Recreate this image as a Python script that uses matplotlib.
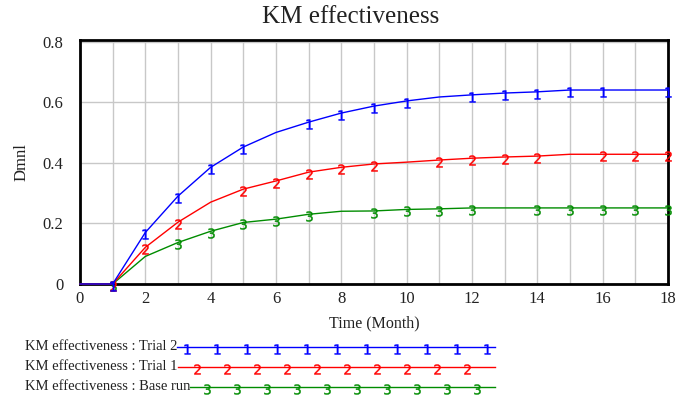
import matplotlib
matplotlib.use("Agg")
import numpy as np
import matplotlib.pyplot as plt
from matplotlib.textpath import TextPath
from matplotlib.font_manager import FontProperties
from matplotlib.path import Path

months = list(range(0, 19))
trial2 = [0, 0, 0.170, 0.290, 0.385, 0.452, 0.500, 0.534, 0.564, 0.587, 0.604,
          0.617, 0.624, 0.630, 0.634, 0.640, 0.640, 0.640, 0.640]
trial1 = [0, 0, 0.121, 0.204, 0.270, 0.313, 0.340, 0.369, 0.385, 0.396, 0.402,
          0.409, 0.415, 0.419, 0.422, 0.428, 0.428, 0.428, 0.428]
base = [0, 0, 0.091, 0.137, 0.174, 0.203, 0.214, 0.230, 0.240, 0.241, 0.246,
        0.248, 0.251, 0.251, 0.251, 0.251, 0.251, 0.251, 0.251]
series_names = ["KM effectiveness : Trial 2", "KM effectiveness : Trial 1",
                "KM effectiveness : Base run"]
marks_t2 = [1, 2, 3, 4, 5, 7, 8, 9, 10, 12, 13, 14, 15, 16, 18]
marks_t1 = [1, 2, 3, 5, 6, 7, 8, 9, 11, 12, 13, 14, 16, 17, 18]
marks_b = [1, 3, 4, 5, 6, 7, 9, 10, 11, 12, 14, 15, 16, 17, 18]
xticks = [0, 2, 4, 6, 8, 10, 12, 14, 16, 18]
yticks = [0, 0.2, 0.4, 0.6, 0.8]
ytick_labels = ["0", "0.2", "0.4", "0.6", "0.8"]

plt.rcParams['font.family'] = ['Liberation Serif', 'DejaVu Serif']


def num_marker(ch, h=10, above=3):
    fp = FontProperties(family='DejaVu Sans')
    tp = TextPath((0, 0), ch, size=10, prop=fp)
    ext = tp.get_extents()
    scale = h / ext.height
    verts = (tp.vertices - np.array([ext.x0 + ext.width / 2, ext.y1])) * scale
    verts = verts + np.array([0, above])
    path = Path(verts, tp.codes)
    ms = 2 * np.abs(verts).max() * 0.72
    return path, ms


W, H = 692, 398
fig = plt.figure(figsize=(W / 100, H / 100), dpi=100)
ax = fig.add_axes([80 / W, 1 - 284 / H, (668 - 80) / W, (284 - 40) / H])

colors = {"t2": "#0000ff", "t1": "#ff0000", "b": "#008c00"}
m1, s1 = num_marker("1")
m2, s2 = num_marker("2")
m3, s3 = num_marker("3")

ax.plot(months, base, color=colors["b"], lw=1, marker=m3, markersize=s3, mew=0.3,
        markevery=marks_b, zorder=3, clip_on=False)
ax.plot(months, trial1, color=colors["t1"], lw=1, marker=m2, markersize=s2, mew=0.3,
        markevery=marks_t1, zorder=4, clip_on=False)
ax.plot(months, trial2, color=colors["t2"], lw=1, marker=m1, markersize=s1, mew=0.3,
        markevery=marks_t2, zorder=5, clip_on=False)

ax.set_xlim(0, 18)
ax.set_ylim(0, 0.805)
ax.set_xticks(range(0, 19), minor=True)
ax.set_xticks(xticks)
ax.set_yticks(yticks)
ax.set_yticklabels(ytick_labels)
ax.grid(True, which="both", axis="x", color="#c8c8c8", lw=1)
ax.grid(True, which="major", axis="y", color="#c8c8c8", lw=1)
ax.set_axisbelow(True)
ax.tick_params(which="both", length=0, labelsize=12, labelcolor="#222222")
ax.tick_params(axis="x", pad=5)
ax.tick_params(axis="y", pad=12)
for s in ax.spines.values():
    s.set_color("black")
    s.set_linewidth(2)
ax.set_xlabel("Time (Month)", fontsize=11.5, labelpad=6, color="#222222")
ax.set_ylabel("Dmnl", fontsize=12, labelpad=9, color="#222222")
fig.text(351 / W, 1 - 17 / H, "KM effectiveness", fontsize=18, ha="center",
         va="center", color="#222222")

# legend drawn below in pixel coordinates
lax = fig.add_axes([0, 0, 1, 1])
lax.set_xlim(0, W)
lax.set_ylim(H, 0)
lax.axis("off")
fig.canvas.draw()
renderer = fig.canvas.get_renderer()
rows = [(series_names[0], colors["t2"], m1, s1, 347, 187),
        (series_names[1], colors["t1"], m2, s2, 367, 197),
        (series_names[2], colors["b"], m3, s3, 387, 207)]
inv = lax.transData.inverted()
for name, col, mk, ms, y, mstart in rows:
    t = lax.text(25, y, name, fontsize=10.5, va="center", ha="left", color="#222222")
    bb = t.get_window_extent(renderer)
    x1 = inv.transform((bb.x1, bb.y0))[0]
    lax.plot([x1, 495], [y, y], color=col, lw=1)
    xs = list(range(mstart, 496, 30))
    lax.plot(xs, [y] * len(xs), ls="none", marker=mk, markersize=ms, mew=0.3, color=col)

fig.savefig("out.png", dpi=100)
